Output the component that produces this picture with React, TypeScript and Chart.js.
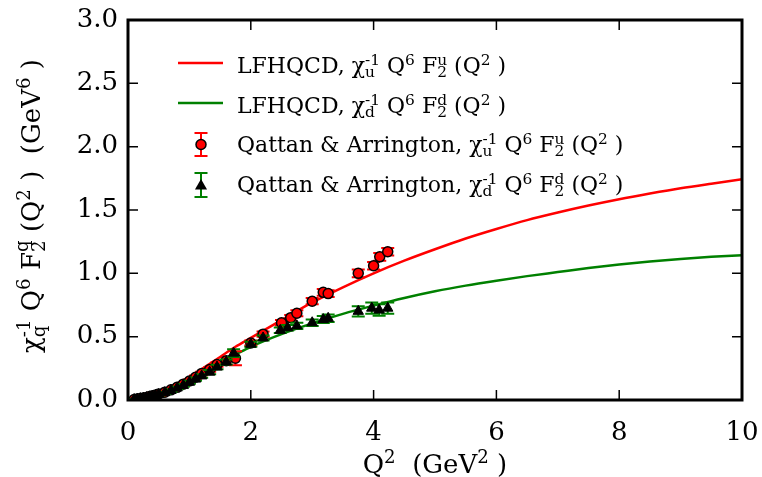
import React, { useEffect, useRef } from 'react';
import { Chart, registerables } from 'chart.js';

Chart.register(...registerables);

// ---- data ----
const curveQ2 = [0, 0.25, 0.5, 0.75, 1, 1.25, 1.5, 1.75, 2, 2.5, 3, 3.5, 4, 4.5, 5, 5.5, 6, 6.5, 7, 7.5, 8, 8.5, 9, 9.5, 10];
const curveU = [0, 0.012, 0.05, 0.11, 0.18, 0.26, 0.34, 0.42, 0.49, 0.63, 0.77, 0.89, 1.0, 1.1, 1.19, 1.275, 1.35, 1.42, 1.48, 1.535, 1.585, 1.63, 1.672, 1.708, 1.742];
const curveD = [0, 0.012, 0.045, 0.095, 0.16, 0.23, 0.3, 0.36, 0.42, 0.52, 0.605, 0.68, 0.745, 0.805, 0.858, 0.903, 0.942, 0.978, 1.01, 1.042, 1.07, 1.094, 1.114, 1.13, 1.143];

const dataQ2U = [0.1, 0.15, 0.2, 0.25, 0.3, 0.35, 0.4, 0.45, 0.5, 0.6, 0.7, 0.8, 0.9, 1.0, 1.1, 1.2, 1.33, 1.45, 1.6, 1.75, 2.0, 2.2, 2.5, 2.65, 2.75, 3.0, 3.18, 3.26, 3.75, 4.0, 4.1, 4.23];
const dataU = [0.004, 0.008, 0.012, 0.016, 0.02, 0.027, 0.033, 0.04, 0.047, 0.062, 0.08, 0.1, 0.125, 0.15, 0.18, 0.21, 0.24, 0.28, 0.31, 0.33, 0.45, 0.52, 0.61, 0.65, 0.685, 0.78, 0.85, 0.84, 1.0, 1.06, 1.13, 1.17];
const errU = [0.003, 0.003, 0.004, 0.004, 0.005, 0.005, 0.006, 0.006, 0.007, 0.008, 0.009, 0.01, 0.011, 0.012, 0.013, 0.014, 0.016, 0.018, 0.03, 0.055, 0.02, 0.02, 0.022, 0.022, 0.024, 0.025, 0.026, 0.026, 0.03, 0.03, 0.03, 0.03];

const dataQ2D = [0.1, 0.15, 0.2, 0.25, 0.3, 0.35, 0.4, 0.45, 0.5, 0.6, 0.7, 0.8, 0.9, 1.0, 1.1, 1.2, 1.33, 1.45, 1.6, 1.72, 2.0, 2.2, 2.48, 2.6, 2.75, 3.0, 3.18, 3.26, 3.75, 3.97, 4.09, 4.23];
const dataD = [0.004, 0.007, 0.011, 0.015, 0.019, 0.025, 0.03, 0.036, 0.043, 0.058, 0.075, 0.095, 0.115, 0.14, 0.165, 0.19, 0.22, 0.26, 0.3, 0.37, 0.44, 0.49, 0.55, 0.57, 0.585, 0.61, 0.635, 0.645, 0.7, 0.725, 0.71, 0.725];
const errD = [0.003, 0.003, 0.004, 0.004, 0.005, 0.005, 0.006, 0.006, 0.007, 0.008, 0.009, 0.01, 0.011, 0.012, 0.013, 0.014, 0.016, 0.018, 0.02, 0.03, 0.02, 0.02, 0.022, 0.022, 0.024, 0.025, 0.028, 0.03, 0.04, 0.045, 0.045, 0.045];

const xTicks = [0, 2, 4, 6, 8, 10];
const yTicks = [0, 0.5, 1.0, 1.5, 2.0, 2.5, 3.0];

const RED = '#ff0000';
const GREEN = '#008000';
const FONT = '"DejaVu Serif", serif';

type Seg = { t: string; sup?: string; sub?: string };

const legendU: Seg[] = [
  { t: 'LFHQCD, χ', sup: '-1', sub: 'u' },
  { t: ' Q', sup: '6' },
  { t: ' F', sup: 'u', sub: '2' },
  { t: ' (Q', sup: '2' },
  { t: ' )' },
];
const legendD: Seg[] = [
  { t: 'LFHQCD, χ', sup: '-1', sub: 'd' },
  { t: ' Q', sup: '6' },
  { t: ' F', sup: 'd', sub: '2' },
  { t: ' (Q', sup: '2' },
  { t: ' )' },
];
const legendQU: Seg[] = [
  { t: 'Qattan & Arrington, χ', sup: '-1', sub: 'u' },
  { t: ' Q', sup: '6' },
  { t: ' F', sup: 'u', sub: '2' },
  { t: ' (Q', sup: '2' },
  { t: ' )' },
];
const legendQD: Seg[] = [
  { t: 'Qattan & Arrington, χ', sup: '-1', sub: 'd' },
  { t: ' Q', sup: '6' },
  { t: ' F', sup: 'd', sub: '2' },
  { t: ' (Q', sup: '2' },
  { t: ' )' },
];
const xTitle: Seg[] = [{ t: 'Q', sup: '2' }, { t: '  (GeV', sup: '2' }, { t: ' )' }];
const yTitle: Seg[] = [
  { t: 'χ', sup: '-1', sub: 'q' },
  { t: ' Q', sup: '6' },
  { t: ' F', sup: 'q', sub: '2' },
  { t: ' (Q', sup: '2' },
  { t: ' )  (GeV', sup: '6' },
  { t: ' )' },
];

function richWidth(ctx: CanvasRenderingContext2D, segs: Seg[], size: number) {
  let w = 0;
  for (const s of segs) {
    ctx.font = `${size}px ${FONT}`;
    w += ctx.measureText(s.t).width;
    ctx.font = `${size * 0.7}px ${FONT}`;
    const a = s.sup ? ctx.measureText(s.sup).width : 0;
    const b = s.sub ? ctx.measureText(s.sub).width : 0;
    w += Math.max(a, b);
  }
  return w;
}

function drawRich(ctx: CanvasRenderingContext2D, segs: Seg[], x0: number, y: number, size: number) {
  let x = x0;
  ctx.fillStyle = '#000';
  ctx.textBaseline = 'alphabetic';
  ctx.textAlign = 'left';
  for (const s of segs) {
    ctx.font = `${size}px ${FONT}`;
    ctx.fillText(s.t, x, y);
    x += ctx.measureText(s.t).width;
    ctx.font = `${size * 0.7}px ${FONT}`;
    let a = 0;
    let b = 0;
    if (s.sup) {
      const lift = s.sub && /[qgpy]/.test(s.sup) ? 0.48 : 0.38;
      ctx.fillText(s.sup, x, y - size * lift);
      a = ctx.measureText(s.sup).width;
    }
    if (s.sub) {
      ctx.fillText(s.sub, x, y + size * 0.2);
      b = ctx.measureText(s.sub).width;
    }
    x += Math.max(a, b);
  }
}

function drawErrBars(chart: any, qs: number[], vs: number[], es: number[], color: string) {
  const ctx: CanvasRenderingContext2D = chart.ctx;
  const xs = chart.scales.x;
  const ys = chart.scales.y;
  const a = chart.chartArea;
  ctx.save();
  ctx.beginPath();
  ctx.rect(a.left, a.top, a.right - a.left, a.bottom - a.top);
  ctx.clip();
  ctx.strokeStyle = color;
  ctx.lineWidth = 2;
  for (let i = 0; i < qs.length; i++) {
    const px = xs.getPixelForValue(qs[i]);
    const p1 = ys.getPixelForValue(vs[i] - es[i]);
    const p2 = ys.getPixelForValue(vs[i] + es[i]);
    ctx.beginPath();
    ctx.moveTo(px, p1);
    ctx.lineTo(px, p2);
    ctx.moveTo(px - 6.5, p1);
    ctx.lineTo(px + 6.5, p1);
    ctx.moveTo(px - 6.5, p2);
    ctx.lineTo(px + 6.5, p2);
    ctx.stroke();
  }
  ctx.restore();
}

function triangle(ctx: CanvasRenderingContext2D, x: number, y: number, r: number) {
  ctx.beginPath();
  ctx.moveTo(x, y - r);
  ctx.lineTo(x + r * 0.866, y + r * 0.5);
  ctx.lineTo(x - r * 0.866, y + r * 0.5);
  ctx.closePath();
}

const customPlugin = {
  id: 'customDraw',
  beforeDatasetDraw(chart: any, args: any) {
    if (args.index === 2) drawErrBars(chart, dataQ2U, dataU, errU, RED);
    if (args.index === 3) drawErrBars(chart, dataQ2D, dataD, errD, GREEN);
  },
  afterDraw(chart: any) {
    const ctx: CanvasRenderingContext2D = chart.ctx;
    const a = chart.chartArea;
    const xs = chart.scales.x;
    const ys = chart.scales.y;
    ctx.save();
    // inward ticks
    ctx.strokeStyle = '#000';
    ctx.lineWidth = 1.5;
    ctx.beginPath();
    for (const v of xTicks) {
      const px = xs.getPixelForValue(v);
      ctx.moveTo(px, a.bottom);
      ctx.lineTo(px, a.bottom - 10);
      ctx.moveTo(px, a.top);
      ctx.lineTo(px, a.top + 10);
    }
    for (const v of yTicks) {
      const py = ys.getPixelForValue(v);
      ctx.moveTo(a.left, py);
      ctx.lineTo(a.left + 10, py);
      ctx.moveTo(a.right, py);
      ctx.lineTo(a.right - 10, py);
    }
    ctx.stroke();
    // frame
    ctx.lineWidth = 3;
    ctx.strokeRect(a.left, a.top, a.right - a.left, a.bottom - a.top);

    // axis titles
    const tsize = 26;
    const wx = richWidth(ctx, xTitle, tsize);
    drawRich(ctx, xTitle, (a.left + a.right) / 2 - wx / 2, 473, tsize);
    const wy = richWidth(ctx, yTitle, tsize);
    ctx.save();
    ctx.translate(40, (a.top + a.bottom) / 2 - 4);
    ctx.rotate(-Math.PI / 2);
    drawRich(ctx, yTitle, -wy / 2, 0, tsize);
    ctx.restore();

    // legend
    const ls = 22;
    const tx = 237;
    ctx.lineWidth = 2.5;
    ctx.strokeStyle = RED;
    ctx.beginPath();
    ctx.moveTo(178, 63);
    ctx.lineTo(223, 63);
    ctx.stroke();
    drawRich(ctx, legendU, tx, 73, ls);
    ctx.strokeStyle = GREEN;
    ctx.beginPath();
    ctx.moveTo(178, 103);
    ctx.lineTo(223, 103);
    ctx.stroke();
    drawRich(ctx, legendD, tx, 113, ls);

    // errorbar legend entries
    const mx = 201;
    ctx.lineWidth = 2;
    ctx.strokeStyle = RED;
    ctx.beginPath();
    ctx.moveTo(mx, 133); ctx.lineTo(mx, 156);
    ctx.moveTo(mx - 6.5, 133); ctx.lineTo(mx + 6.5, 133);
    ctx.moveTo(mx - 6.5, 156); ctx.lineTo(mx + 6.5, 156);
    ctx.stroke();
    ctx.beginPath();
    ctx.arc(mx, 144.5, 5, 0, Math.PI * 2);
    ctx.fillStyle = RED;
    ctx.fill();
    ctx.lineWidth = 1.5;
    ctx.strokeStyle = '#000';
    ctx.stroke();
    drawRich(ctx, legendQU, tx, 152, ls);

    ctx.lineWidth = 2;
    ctx.strokeStyle = GREEN;
    ctx.beginPath();
    ctx.moveTo(mx, 173); ctx.lineTo(mx, 197);
    ctx.moveTo(mx - 6.5, 173); ctx.lineTo(mx + 6.5, 173);
    ctx.moveTo(mx - 6.5, 197); ctx.lineTo(mx + 6.5, 197);
    ctx.stroke();
    triangle(ctx, mx, 186, 7);
    ctx.fillStyle = '#000';
    ctx.fill();
    drawRich(ctx, legendQD, tx, 192, ls);
    ctx.restore();
  },
};

export default function App() {
  const ref = useRef<HTMLCanvasElement | null>(null);
  useEffect(() => {
    if (!ref.current) return;
    const chart = new Chart(ref.current, {
      type: 'scatter',
      data: {
        datasets: [
          {
            type: 'line',
            label: 'LFHQCD u',
            data: curveQ2.map((q, i) => ({ x: q, y: curveU[i] })),
            borderColor: RED,
            borderWidth: 2.5,
            pointRadius: 0,
            cubicInterpolationMode: 'monotone',
            fill: false,
            order: 3,
          } as any,
          {
            type: 'line',
            label: 'LFHQCD d',
            data: curveQ2.map((q, i) => ({ x: q, y: curveD[i] })),
            borderColor: GREEN,
            borderWidth: 2.5,
            pointRadius: 0,
            cubicInterpolationMode: 'monotone',
            fill: false,
            order: 2,
          } as any,
          {
            label: 'Qattan u',
            data: dataQ2U.map((q, i) => ({ x: q, y: dataU[i] })),
            pointStyle: 'circle',
            pointRadius: 5,
            backgroundColor: RED,
            borderColor: '#000',
            borderWidth: 1.5,
            order: 1,
          } as any,
          {
            label: 'Qattan d',
            data: dataQ2D.map((q, i) => ({ x: q, y: dataD[i] })),
            pointStyle: 'triangle',
            pointRadius: 6,
            backgroundColor: '#000',
            borderColor: '#000',
            borderWidth: 1,
            order: 0,
          } as any,
        ],
      },
      options: {
        animation: false,
        responsive: false,
        devicePixelRatio: 1,
        layout: { padding: { top: 20, right: 20, left: 0, bottom: 0 } },
        plugins: { legend: { display: false }, tooltip: { enabled: false } },
        scales: {
          x: {
            type: 'linear',
            min: 0,
            max: 10,
            afterBuildTicks: (s: any) => {
              s.ticks = xTicks.map((v) => ({ value: v }));
            },
            ticks: {
              font: { family: FONT, size: 26 },
              color: '#000',
              padding: 18,
              maxRotation: 0,
              callback: (v: any) => String(v),
            },
            grid: { display: false, drawTicks: false },
            border: { display: false },
            afterFit: (s: any) => {
              s.height = 77;
              s.paddingLeft = 0;
              s.paddingRight = 0;
            },
          },
          y: {
            type: 'linear',
            min: 0,
            max: 3,
            afterBuildTicks: (s: any) => {
              s.ticks = yTicks.map((v) => ({ value: v }));
            },
            ticks: {
              font: { family: FONT, size: 26 },
              color: '#000',
              padding: 10,
              callback: (v: any) => Number(v).toFixed(1),
            },
            grid: { display: false, drawTicks: false },
            border: { display: false },
            afterFit: (s: any) => {
              s.width = 128;
              s.paddingTop = 0;
              s.paddingBottom = 0;
            },
          },
        },
      },
      plugins: [customPlugin],
    });
    return () => chart.destroy();
  }, []);
  return (
    <div style={{ position: 'fixed', left: 0, top: 0, width: 762, height: 477, background: '#fff' }}>
      <canvas ref={ref} width={762} height={477} style={{ display: 'block' }} />
    </div>
  );
}
